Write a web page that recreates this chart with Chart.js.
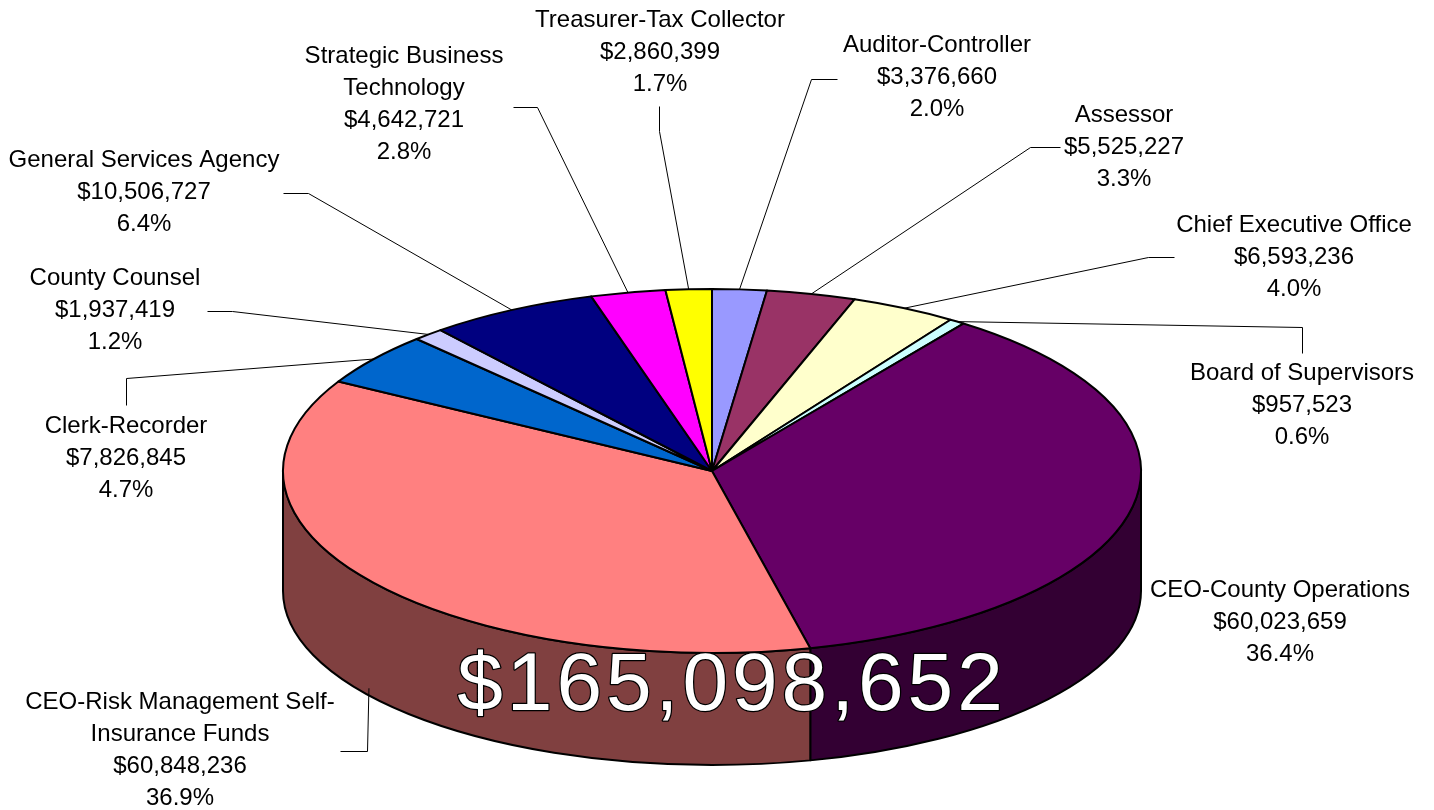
<!DOCTYPE html>
<html>
<head>
<meta charset="utf-8">
<title>Budget by Department</title>
<script src="https://cdn.jsdelivr.net/npm/chart.js@4.4.0/dist/chart.umd.min.js"></script>
<style>
    html, body { margin: 0; padding: 0; background: #fff; }
    #chartWrap { width: 1434px; height: 810px; }
</style>
</head>
<body>
<div id="chartWrap"><canvas id="budgetChart" width="1434" height="810"></canvas></div>
<script>
// slices in drawing order, clockwise from 12 o'clock
const departments = [
    ["Auditor-Controller"],
    ["Assessor"],
    ["Chief Executive Office"],
    ["Board of Supervisors"],
    ["CEO-County Operations"],
    ["CEO-Risk Management Self-", "Insurance Funds"],
    ["Clerk-Recorder"],
    ["County Counsel"],
    ["General Services Agency"],
    ["Strategic Business", "Technology"],
    ["Treasurer-Tax Collector"],
];
const amounts = [3376660, 5525227, 6593236, 957523, 60023659, 60848236, 7826845, 1937419, 10506727, 4642721, 2860399];

const topColors = ["#9999FF", "#993366", "#FFFFCC", "#CCFFFF", "#660066", "#FF8080", "#0066CC", "#CCCCFF", "#000080", "#FF00FF", "#FFFF00"];
const sideColors = ["#4D4D80", "#4D1A33", "#808066", "#668080", "#330033", "#804040", "#003366", "#666680", "#000040", "#800080", "#808000"];

// label placement: [centre x, first baseline]
const labelPos = [
    [937, 52], [1124, 122], [1294, 232], [1302, 380], [1280, 597],
    [180, 709], [126, 433], [115, 285], [144, 167], [404, 63], [660, 27],
];
// leader line elbows (from the label towards the slice), null = no leader
const leaders = [
    [[837, 79], [811, 79]],
    [[1060, 147], [1030, 147]],
    [[1174, 257], [1148, 257]],
    [[1302, 353], [1302, 327]],
    null,
    [[340, 751], [367, 751]],
    [[126, 405], [126, 378]],
    [[207, 311], [232, 311]],
    [[283, 193], [308, 193]],
    [[513, 107], [537, 107]],
    [[659, 106], [659, 131]],
];

// projected pie: top ellipse + wall height
const PIE = { cx: 712, cy: 471, rx: 429, ry: 182, depth: 120, ryBottom: 174 };
const LABEL_FONT = '24px "Liberation Sans", Arial, sans-serif';
const LINE_H = 32;

const fmt = n => "$" + n.toLocaleString("en-US");

const pie3d = {
    id: "pie3d",
    beforeDatasetsDraw(chart) {
        const ctx = chart.ctx;
        const arcs = chart.getDatasetMeta(0).data;
        const { cx, cy, rx, ry, depth, ryBottom } = PIE;
        ctx.save();
        ctx.lineWidth = 2;
        ctx.strokeStyle = "#000";
        ctx.lineJoin = "round";

        // walls, only the half that faces the viewer
        arcs.forEach((arc, i) => {
            const { startAngle, endAngle } = arc.getProps(["startAngle", "endAngle"], true);
            const a = Math.max(startAngle, 0);
            const b = Math.min(endAngle, Math.PI);
            if (b <= a) return;
            ctx.beginPath();
            ctx.ellipse(cx, cy, rx, ry, 0, a, b);
            ctx.ellipse(cx, cy + depth, rx, ryBottom, 0, b, a, true);
            ctx.closePath();
            ctx.fillStyle = sideColors[i];
            ctx.fill();
            ctx.stroke();
        });

        // top faces
        arcs.forEach(arc => {
            const { startAngle, endAngle } = arc.getProps(["startAngle", "endAngle"], true);
            ctx.beginPath();
            ctx.moveTo(cx, cy);
            ctx.ellipse(cx, cy, rx, ry, 0, startAngle, endAngle);
            ctx.closePath();
            ctx.fillStyle = arc.options.backgroundColor;
            ctx.fill();
            ctx.stroke();
        });
        ctx.restore();
        return false;
    },
    afterDraw(chart) {
        const ctx = chart.ctx;
        const arcs = chart.getDatasetMeta(0).data;
        const total = amounts.reduce((s, v) => s + v, 0);
        const { cx, cy, rx, ry, depth } = PIE;

        // leader lines
        ctx.save();
        ctx.strokeStyle = "#000";
        ctx.lineWidth = 1;
        arcs.forEach((arc, i) => {
            const pts = leaders[i];
            if (!pts) return;
            const { startAngle, endAngle } = arc.getProps(["startAngle", "endAngle"], true);
            const mid = (startAngle + endAngle) / 2;
            let px = cx + rx * Math.cos(mid);
            let py = cy + ry * Math.sin(mid);
            if (Math.sin(mid) > 0.3) py += depth * 0.9;
            ctx.beginPath();
            ctx.moveTo(pts[0][0] + 0.5, pts[0][1] + 0.5);
            for (let k = 1; k < pts.length; k++) ctx.lineTo(pts[k][0] + 0.5, pts[k][1] + 0.5);
            ctx.lineTo(px, py);
            ctx.stroke();
        });

        // data labels
        ctx.fillStyle = "#000";
        ctx.font = LABEL_FONT;
        ctx.textAlign = "center";
        ctx.textBaseline = "alphabetic";
        departments.forEach((name, i) => {
            const lines = [...name, fmt(amounts[i]), (amounts[i] / total * 100).toFixed(1) + "%"];
            const [x, y] = labelPos[i];
            lines.forEach((t, k) => ctx.fillText(t, x, y + k * LINE_H));
        });

        // grand total across the front wall
        ctx.font = '82px "Liberation Sans", Arial, sans-serif';
        ctx.letterSpacing = "4px";
        ctx.lineWidth = 2.5;
        ctx.lineJoin = "round";
        ctx.strokeText(fmt(total), 732, 710);
        ctx.fillStyle = "#fff";
        ctx.fillText(fmt(total), 732, 710);
        ctx.restore();
    },
};

new Chart(document.getElementById("budgetChart"), {
    type: "pie",
    data: {
        labels: departments,
        datasets: [{
            data: amounts,
            backgroundColor: topColors,
            borderColor: "#000",
            borderWidth: 2,
        }],
    },
    options: {
        responsive: false,
        animation: false,
        devicePixelRatio: 1,
        events: [],
        plugins: {
            legend: { display: false },
            tooltip: { enabled: false },
        },
    },
    plugins: [pie3d],
});
</script>
</body>
</html>
